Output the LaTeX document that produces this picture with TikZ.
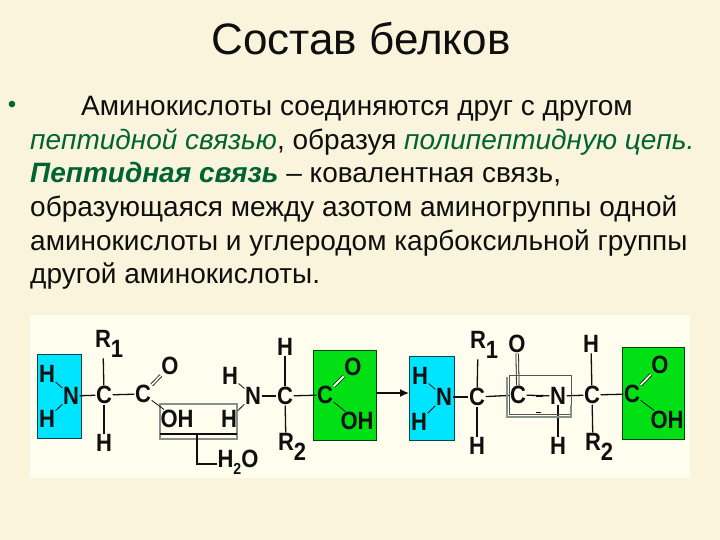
\documentclass[tikz,border=0pt]{standalone}
\usepackage{fontspec}
\setmainfont{Liberation Sans}
\newfontfamily\atomfont[FakeStretch=0.88]{Liberation Sans Bold}
\usetikzlibrary{arrows.meta}
\definecolor{pagebg}{RGB}{251,244,220}
\definecolor{panelbg}{RGB}{254,253,238}
\definecolor{leaf}{RGB}{0,100,50}
\definecolor{cyanbox}{RGB}{0,229,255}
\definecolor{greenbox}{RGB}{0,224,20}
\definecolor{graybox}{RGB}{135,145,140}
\definecolor{ink}{RGB}{15,15,15}
\newcommand{\green}[1]{\textcolor{leaf}{\itshape #1}}
\newcommand{\subs}[1]{\rlap{\raisebox{-10pt}{#1}}}
\tikzset{
  line/.style={anchor=base west,inner sep=0pt,font=\fontsize{28}{28}\selectfont,text=ink},
  atom/.style={inner sep=0.5pt,font=\atomfont\fontsize{25}{25}\selectfont,text=ink},
  bond/.style={draw=ink,line width=1.3pt},
  thin bond/.style={draw=ink,line width=0.8pt},
  dbl/.style={draw=ink,double=panelbg,line width=0.8pt,double distance=1.8pt},
  cbox/.style={draw=black!70!cyanbox,line width=0.7pt,fill=cyanbox},
  gbox/.style={draw=black!70!greenbox,line width=0.7pt,fill=greenbox},
}
\begin{document}
\begin{tikzpicture}[x=1pt,y=-1pt]
\useasboundingbox (0,0) rectangle (720,540);
\fill[pagebg] (0,0) rectangle (720,540);
\node[anchor=base,inner sep=0pt,font=\fontsize{44}{44}\selectfont,text=ink] (title) at (361,55) {Состав белков};
\node[anchor=base,inner sep=0pt,font=\fontsize{24}{24}\selectfont,text=leaf] (bullet) at (12,113) {•};
\node[line] (l1) at (81,116) {Аминокислоты соединяются друг с другом};
\node[line] (l2) at (30,149.5) {\green{пептидной связью}, образуя \green{полипептидную цепь.}};
\node[line] (l3) at (30,183) {\textcolor{leaf}{\bfseries\itshape Пептидная связь} – ковалентная связь,};
\node[line] (l4) at (30,216) {образующаяся между азотом аминогруппы одной};
\node[line] (l5) at (30,250) {аминокислоты и углеродом карбоксильной группы};
\node[line] (l6) at (30,283) {другой аминокислоты.};
% panel and boxes
\fill[panelbg] (30,315) rectangle (690,478);
\draw[cbox] (37,354) rectangle (81,438);
\draw[gbox] (313,350) rectangle (376,440);
\draw[cbox] (409,356) rectangle (454,440);
\draw[gbox] (622,347) rectangle (684,439);
\draw[graybox,line width=1.6pt] (160,404) rectangle (237,439);
\draw[ink,line width=1.2pt] (160,434) -- (237,434);
% left amino acid
\node[atom] (h1) at (47,374) {H};
\node[atom] (h2) at (47,419) {H};
\node[atom] (n1) at (71,396) {N};
\node[atom] (c1) at (104,395) {C};
\node[atom] (r1) at (103,344) {R\subs{1}};
\node[atom] (h3) at (104,443) {H};
\node[atom] (c2) at (143,394) {C};
\node[atom] (o1) at (170,366) {O};
\node[atom] (oh1) at (177,419) {OH};
\draw[thin bond] (h1) -- (n1);
\draw[thin bond] (h2) -- (n1);
\draw[bond] (n1) -- (c1);
\draw[bond] (c1) -- (r1);
\draw[bond] (c1) -- (h3);
\draw[bond] (c1) -- (c2);
\draw[dbl] (c2) -- (o1);
\draw[thin bond] (c2) -- (oh1);
% second amino acid
\node[atom] (h4) at (230,376) {H};
\node[atom] (h5) at (229,419) {H};
\node[atom] (n2) at (253,396) {N};
\node[atom] (c3) at (285,396) {C};
\node[atom] (h6) at (285,347) {H};
\node[atom] (r2) at (286,447) {R\subs{2}};
\node[atom] (c4) at (325,395) {C};
\node[atom] (o2) at (353,367) {O};
\node[atom] (oh2) at (357,421) {OH};
\draw[thin bond] (h4) -- (n2);
\draw[thin bond] (h5) -- (n2);
\draw[bond] (n2) -- (c3);
\draw[bond] (c3) -- (h6);
\draw[bond] (c3) -- (r2);
\draw[bond] (c3) -- (c4);
\draw[dbl] (c4) -- (o2);
\draw[thin bond] (c4) -- (oh2);
% water
\coordinate (wtop) at (197,434);
\coordinate (wcorner) at (197,464);
\node[atom] (water) at (238,462) {H\raisebox{-7pt}{\fontsize{16}{16}\selectfont 2}O};
\draw[bond] (wtop) -- (wcorner) -- (water.west |- wcorner);
% reaction arrow
\coordinate (arrowstart) at (376,393);
\coordinate (arrowend) at (409,393);
\draw[bond,-{Latex[length=9pt,width=8pt]}] (arrowstart) -- (arrowend);
% dipeptide
\node[atom] (h7) at (420,376) {H};
\node[atom] (h8) at (419,422) {H};
\node[atom] (n3) at (444,397) {N};
\node[atom] (c5) at (477,397) {C};
\node[atom] (r3) at (478,345) {R\subs{1}};
\node[atom] (h9) at (477,446) {H};
\node[atom] (c6) at (518,395) {C};
\node[atom] (o3) at (517,344) {O};
\node[atom] (n4) at (558,396) {N};
\node[atom] (h10) at (558,446) {H};
\node[atom] (c7) at (592,395) {C};
\node[atom] (h11) at (591,344) {H};
\node[atom] (r4) at (593,447) {R\subs{2}};
\node[atom] (c8) at (632,394) {C};
\node[atom] (o4) at (660,365) {O};
\node[atom] (oh3) at (667,420) {OH};
\draw[thin bond] (h7) -- (n3);
\draw[thin bond] (h8) -- (n3);
\draw[bond] (n3) -- (c5);
\draw[bond] (c5) -- (r3);
\draw[bond] (c5) -- (h9);
\draw[bond] (c5) -- (c6);
\draw[dbl] (c6) -- (o3);
\draw[bond] (c6) -- (n4);
\draw[bond] (n4) -- (h10);
\draw[bond] (n4) -- (c7);
\draw[bond] (c7) -- (h11);
\draw[bond] (c7) -- (r4);
\draw[bond] (c7) -- (c8);
\draw[dbl] (c8) -- (o4);
\draw[thin bond] (c8) -- (oh3);
% peptide bond frame
\draw[graybox!60!black,line width=0.6pt] (509,375) rectangle (571,414);
\draw[graybox,line width=1.6pt] (507,377) -- (507,417) -- (571,417) -- (571,405);
\draw[ink,line width=0.6pt] (536,396) -- (543,396);
\draw[ink,line width=0.6pt] (536,412) -- (541,412);
\end{tikzpicture}
\end{document}
